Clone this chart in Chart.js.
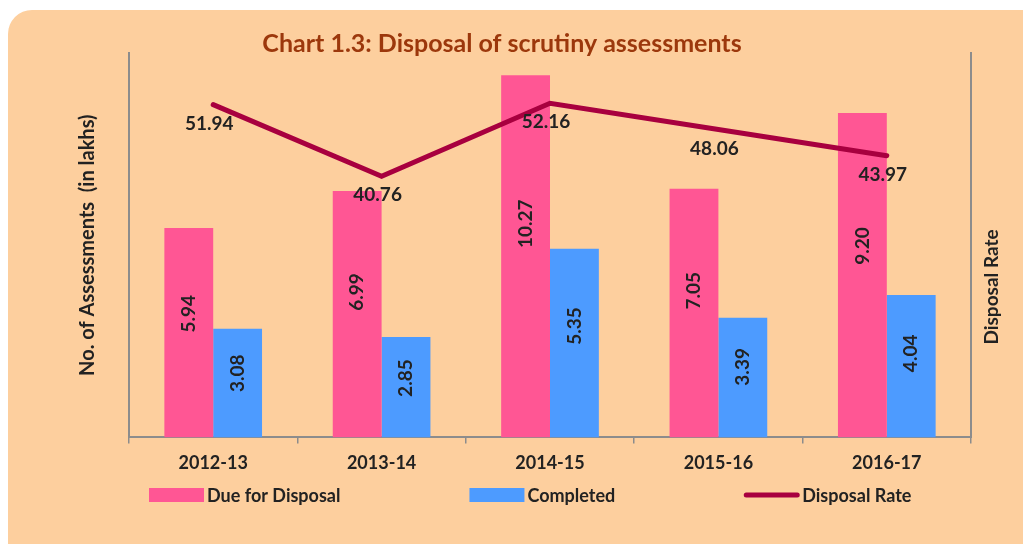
<!DOCTYPE html>
<html>
<head>
<meta charset="utf-8">
<script src="https://cdn.jsdelivr.net/npm/chart.js@4.4.1/dist/chart.umd.min.js"></script>
<style>
    html, body { margin: 0; padding: 0; background: #ffffff; overflow: hidden; }
    #wrap { position: relative; width: 1023px; height: 544px; }
    #panel {
        position: absolute; left: 8px; top: 10px; width: 1040px; height: 580px;
        background: #FDCF9E; border-radius: 24px;
    }
    #chart1 { position: absolute; left: 0; top: 0; }
</style>
</head>
<body>
<div id="wrap">
    <div id="panel"></div>
    <canvas id="chart1" width="1023" height="544"></canvas>
</div>
<script>
const years = ['2012-13', '2013-14', '2014-15', '2015-16', '2016-17'];
const dueForDisposal = [5.94, 6.99, 10.27, 7.05, 9.20];
const completed = [3.08, 2.85, 5.35, 3.39, 4.04];
const disposalRate = [51.94, 40.76, 52.16, 48.06, 43.97];

const FONT = 'Lato, "Open Sans", sans-serif';
const TEXT = '#222222';
const AXIS = '#8C8C8C';

// value labels on the bars and the line
const valueLabels = {
    id: 'valueLabels',
    afterDatasetsDraw(chart) {
        const c = chart.ctx;
        c.save();
        c.fillStyle = TEXT;
        c.font = 'bold 19px ' + FONT;
        c.textAlign = 'center';
        c.textBaseline = 'middle';
        chart.data.datasets.forEach(function (ds, i) {
            const meta = chart.getDatasetMeta(i);
            meta.data.forEach(function (el, j) {
                const txt = ds.data[j].toFixed(2);
                if (ds.type === 'line') {
                    c.fillText(txt, el.x - 4, el.y + 19);
                } else {
                    // a bit above the middle of the bar
                    const ly = el.base - (el.base - el.y) * 0.59;
                    c.save();
                    c.translate(el.x, ly);
                    c.rotate(-Math.PI / 2);
                    c.fillText(txt, 0, 0);
                    c.restore();
                }
            });
        });
        c.restore();
    }
};

// right axis title (reads bottom to top) and the legend row
const extras = {
    id: 'extras',
    afterDraw(chart) {
        const c = chart.ctx;
        const area = chart.chartArea;
        c.save();
        c.fillStyle = TEXT;
        c.font = 'bold 19px ' + FONT;
        c.textAlign = 'center';
        c.textBaseline = 'middle';
        c.translate(area.right + 21, 287);
        c.rotate(-Math.PI / 2);
        c.fillText('Disposal Rate', 0, 0);
        c.restore();

        c.save();
        c.font = 'bold 18px ' + FONT;
        c.textBaseline = 'middle';
        c.textAlign = 'left';
        const boxW = 55, gap = 3, spacing = 129, y = 495;
        const items = chart.data.datasets.map(function (ds) {
            return { ds: ds, w: boxW + gap + c.measureText(ds.label).width };
        });
        // bars first, line last, as in the original legend
        items.push(items.shift());
        let x = area.left + 20;
        items.forEach(function (it) {
            if (it.ds.type === 'line') {
                c.strokeStyle = it.ds.borderColor;
                c.lineWidth = 5;
                c.lineCap = 'round';
                c.beginPath();
                c.moveTo(x + 2, y);
                c.lineTo(x + boxW - 2, y);
                c.stroke();
            } else {
                c.fillStyle = it.ds.backgroundColor;
                c.fillRect(x, y - 7, boxW, 14);
            }
            c.fillStyle = TEXT;
            c.fillText(it.ds.label, x + boxW + gap, y + 1);
            x += it.w + spacing;
        });
        c.restore();
    }
};

const ctx1 = document.getElementById('chart1');

new Chart(ctx1, {
    type: 'bar',
    data: {
        labels: years,
        datasets: [{
            type: 'line',
            label: 'Disposal Rate',
            data: disposalRate,
            yAxisID: 'y1',
            borderColor: '#A8003F',
            backgroundColor: '#A8003F',
            borderWidth: 5,
            borderCapStyle: 'round',
            pointRadius: 0,
            tension: 0,
            order: 0
        }, {
            label: 'Due for Disposal',
            data: dueForDisposal,
            backgroundColor: '#FF5694',
            categoryPercentage: 0.58,
            barPercentage: 1.0,
            order: 1
        }, {
            label: 'Completed',
            data: completed,
            backgroundColor: '#4D9BFF',
            categoryPercentage: 0.58,
            barPercentage: 1.0,
            order: 1
        }]
    },
    options: {
        responsive: false,
        animation: false,
        devicePixelRatio: 1,
        layout: {
            padding: { left: 0, right: 19, top: 0, bottom: 61 }
        },
        plugins: {
            legend: { display: false },
            tooltip: { enabled: false },
            title: {
                display: true,
                text: 'Chart 1.3: Disposal of scrutiny assessments',
                color: '#9C380C',
                font: { family: FONT, size: 25, weight: 'bold', lineHeight: 0.72 },
                padding: { top: 35, bottom: 0 }
            }
        },
        scales: {
            x: {
                offset: true,
                grid: {
                    display: true,
                    drawOnChartArea: false,
                    drawTicks: true,
                    tickLength: 6,
                    color: AXIS,
                    lineWidth: 1.5
                },
                border: { display: true, color: AXIS, width: 2 },
                ticks: {
                    color: TEXT,
                    padding: 9,
                    font: { family: FONT, size: 18, weight: 'bold' }
                }
            },
            y: {
                position: 'left',
                min: 0,
                max: 10.9,
                grid: { display: false },
                border: { display: true, color: AXIS, width: 2 },
                ticks: { display: false },
                title: {
                    display: true,
                    text: 'No. of Assessments  (in lakhs)',
                    color: TEXT,
                    font: { family: FONT, size: 20, weight: 'bold' },
                    padding: { top: 76, bottom: 21 }
                }
            },
            y1: {
                position: 'right',
                min: 0,
                max: 60,
                grid: { display: false },
                border: { display: true, color: AXIS, width: 2 },
                ticks: { display: false },
                afterFit: function (scale) { scale.width = 33; }
            }
        }
    },
    plugins: [valueLabels, extras]
});
</script>
</body>
</html>
